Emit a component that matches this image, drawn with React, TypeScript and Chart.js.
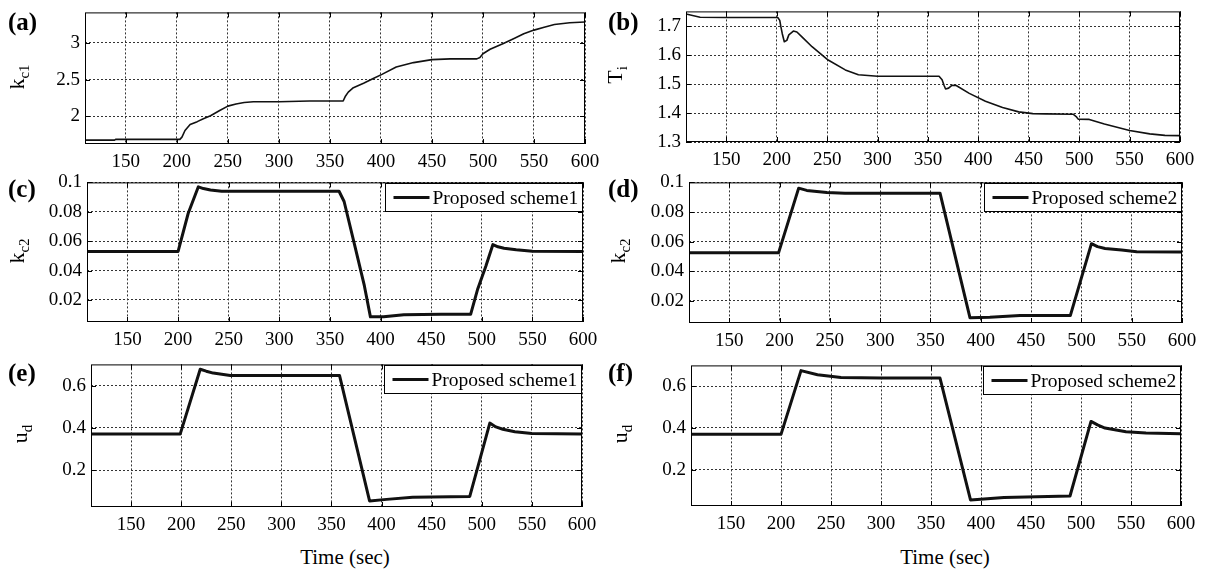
import { useEffect, useRef } from "react";
import { Chart, registerables } from "chart.js";

Chart.register(...registerables);

const FONT = '"Liberation Serif", "Times New Roman", serif';

// Shared time axis ticks (sec)
const timeTicks = [150, 200, 250, 300, 350, 400, 450, 500, 550, 600];
const timeMin = 110;
const timeMax = 600;

// (a) proportional gain k_c1
const kc1Time = [110, 139, 140, 203, 205, 208, 213, 220, 226, 233, 242, 250, 258, 266, 275, 300, 330, 363, 365, 368, 373, 383, 392, 401, 415, 432, 450, 468, 494, 497, 500, 507, 520, 531, 540, 550, 560, 570, 585, 600];
const kc1Values = [1.68, 1.68, 1.69, 1.69, 1.72, 1.81, 1.89, 1.93, 1.97, 2.01, 2.08, 2.14, 2.17, 2.19, 2.2, 2.2, 2.21, 2.21, 2.27, 2.33, 2.39, 2.45, 2.51, 2.57, 2.67, 2.73, 2.77, 2.78, 2.78, 2.8, 2.85, 2.91, 2.99, 3.06, 3.12, 3.17, 3.21, 3.245, 3.27, 3.28];
const kc1Ticks = [2, 2.5, 3];

// (b) integral time T_i
const tiTime = [110, 124, 150, 201, 203, 204, 205.5, 207.5, 210, 212, 216.5, 220, 225, 235, 251, 268, 281, 300, 361, 364, 366, 367.5, 370.5, 374, 378, 391, 407, 424, 440, 454, 467, 494, 497, 499, 510, 525, 550, 570, 585, 600];
const tiValues = [1.742, 1.731, 1.73, 1.73, 1.72, 1.7, 1.674, 1.646, 1.651, 1.67, 1.683, 1.68, 1.663, 1.629, 1.583, 1.549, 1.532, 1.527, 1.527, 1.515, 1.495, 1.483, 1.486, 1.496, 1.495, 1.468, 1.441, 1.419, 1.404, 1.398, 1.397, 1.396, 1.388, 1.379, 1.378, 1.362, 1.34, 1.328, 1.323, 1.322];
const tiTicks = [1.3, 1.4, 1.5, 1.6, 1.7];

// (c) k_c2, scheme 1
const kc2S1Time = [110, 200, 210, 220, 225, 232, 243, 300, 359, 364, 374, 384, 390, 403, 423, 460, 489, 496, 504, 511, 516, 522, 534, 550, 600];
const kc2S1Values = [0.053, 0.053, 0.079, 0.097, 0.0958, 0.0948, 0.094, 0.094, 0.094, 0.087, 0.0585, 0.0297, 0.0085, 0.0086, 0.01, 0.0102, 0.0102, 0.0275, 0.043, 0.0577, 0.0562, 0.0552, 0.0541, 0.0532, 0.053];

// (d) k_c2, scheme 2
const kc2S2Time = [110, 199, 219, 227, 247, 265, 300, 359.5, 389.3, 409, 439, 489, 510, 516, 523.5, 540, 555, 600];
const kc2S2Values = [0.0524, 0.0524, 0.0961, 0.0946, 0.0932, 0.0927, 0.0927, 0.0927, 0.0085, 0.0089, 0.01, 0.01, 0.0586, 0.0566, 0.0553, 0.0543, 0.0532, 0.053];
const kc2Ticks = [0.02, 0.04, 0.06, 0.08, 0.1];

// (e) u_d, scheme 1
const udS1Time = [110, 199, 219, 225, 232, 249, 300, 358, 388, 405, 431, 488, 508, 514, 521, 533, 550, 600];
const udS1Values = [0.371, 0.371, 0.677, 0.668, 0.659, 0.648, 0.648, 0.648, 0.0555, 0.063, 0.0725, 0.077, 0.423, 0.405, 0.394, 0.382, 0.374, 0.371];

// (f) u_d, scheme 2
const udS2Time = [110, 200, 220, 236.5, 260, 300, 359, 389.5, 423, 489, 510, 517, 524, 545, 565, 600];
const udS2Values = [0.369, 0.369, 0.675, 0.655, 0.642, 0.64, 0.639, 0.054, 0.066, 0.073, 0.431, 0.413, 0.399, 0.381, 0.375, 0.372];
const udTicks = [0.2, 0.4, 0.6];

const legendScheme1 = "Proposed scheme1";
const legendScheme2 = "Proposed scheme2";

// Canvas margins around each plot area
const PAD_L = 72;
const PAD_T = 14;
const PAD_R = 24;
const PAD_B = 36;

type PanelSpec = {
  id: string;
  box: [number, number, number, number];
  yMin: number;
  yMax: number;
  yTicks: number[];
  time: number[];
  values: number[];
  lineWidth: number;
  legend?: string;
};

const framePlugin = {
  id: "frame",
  afterDraw(chart: any, _args: any, opts: any) {
    const { ctx, chartArea } = chart;
    const { left, top, right, bottom } = chartArea;
    ctx.save();
    ctx.setLineDash([]);
    ctx.strokeStyle = "#000";
    ctx.lineWidth = 1;
    ctx.strokeRect(left + 0.5, top + 0.5, right - left - 1, bottom - top - 1);
    // inward tick marks on all four sides
    const xs = chart.scales.x;
    const ys = chart.scales.y;
    ctx.beginPath();
    xs.ticks.forEach((tk: any) => {
      const px = Math.round(xs.getPixelForValue(tk.value)) + 0.5;
      ctx.moveTo(px, bottom);
      ctx.lineTo(px, bottom - 5);
      ctx.moveTo(px, top);
      ctx.lineTo(px, top + 5);
    });
    ys.ticks.forEach((tk: any) => {
      const py = Math.round(ys.getPixelForValue(tk.value)) + 0.5;
      ctx.moveTo(left, py);
      ctx.lineTo(left + 5, py);
      ctx.moveTo(right, py);
      ctx.lineTo(right - 5, py);
    });
    ctx.stroke();

    if (opts && opts.label) {
      const w = 197;
      const h = 28;
      const bx = Math.round(right - 1 - w) + 0.5;
      const by = Math.round(top + 1) + 0.5;
      ctx.fillStyle = "#fff";
      ctx.fillRect(bx, by, w, h);
      ctx.strokeStyle = "#000";
      ctx.lineWidth = 1;
      ctx.strokeRect(bx, by, w, h);
      const cy = by + h / 2;
      ctx.beginPath();
      ctx.strokeStyle = "#111";
      ctx.lineWidth = opts.lineWidth || 3;
      ctx.moveTo(bx + 8, cy);
      ctx.lineTo(bx + 44, cy);
      ctx.stroke();
      ctx.fillStyle = "#000";
      ctx.font = `19.5px ${FONT}`;
      ctx.textBaseline = "middle";
      ctx.textAlign = "left";
      ctx.fillText(opts.label, bx + 47, cy + 1);
    }
    ctx.restore();
  },
};

const fmt = (v: any) => `${+Number(v).toFixed(3)}`;

function Panel({ spec }: { spec: PanelSpec }) {
  const ref = useRef<HTMLCanvasElement | null>(null);

  useEffect(() => {
    if (!ref.current) return;
    const gridStyle = { color: "#333", lineWidth: 1, drawTicks: false };
    const chart = new Chart(ref.current, {
      type: "line",
      data: {
        datasets: [
          {
            data: spec.time.map((t, i) => ({ x: t, y: spec.values[i] })),
            borderColor: "#111",
            borderWidth: spec.lineWidth,
            pointRadius: 0,
            fill: false,
            tension: 0,
            borderJoinStyle: "round",
          },
        ],
      },
      options: {
        animation: false,
        responsive: true,
        maintainAspectRatio: false,
        layout: { padding: { left: 0, top: PAD_T, right: PAD_R, bottom: 0 } },
        plugins: {
          legend: { display: false },
          tooltip: { enabled: false },
          frame: { label: spec.legend, lineWidth: spec.lineWidth },
        } as any,
        scales: {
          x: {
            type: "linear",
            min: timeMin,
            max: timeMax,
            afterBuildTicks: (s: any) => {
              s.ticks = timeTicks.map((v) => ({ value: v }));
            },
            afterFit: (s: any) => {
              s.height = PAD_B;
            },
            grid: gridStyle,
            border: { display: false, dash: [2, 2] },
            ticks: {
              color: "#000",
              font: { family: FONT, size: 19 },
              padding: 7,
              maxRotation: 0,
              autoSkip: false,
              callback: fmt,
            },
          },
          y: {
            type: "linear",
            min: spec.yMin,
            max: spec.yMax,
            afterBuildTicks: (s: any) => {
              s.ticks = spec.yTicks.map((v) => ({ value: v }));
            },
            afterFit: (s: any) => {
              s.width = PAD_L;
            },
            grid: gridStyle,
            border: { display: false, dash: [2, 2] },
            ticks: {
              color: "#000",
              font: { family: FONT, size: 19 },
              padding: 5,
              autoSkip: false,
              callback: fmt,
            },
          },
        },
      } as any,
      plugins: [framePlugin as any],
    });
    return () => chart.destroy();
  }, [spec]);

  const [l, t, r, b] = spec.box;
  return (
    <div
      style={{
        position: "absolute",
        left: l - PAD_L,
        top: t - PAD_T,
        width: r - l + PAD_L + PAD_R,
        height: b - t + PAD_T + PAD_B,
      }}
    >
      <canvas ref={ref} />
    </div>
  );
}

const panels: PanelSpec[] = [
  { id: "a", box: [85, 10, 585, 144], yMin: 1.627, yMax: 3.41, yTicks: kc1Ticks, time: kc1Time, values: kc1Values, lineWidth: 1.6 },
  { id: "b", box: [686, 9, 1180, 142], yMin: 1.3, yMax: 1.751, yTicks: tiTicks, time: tiTime, values: tiValues, lineWidth: 1.6 },
  { id: "c", box: [87, 180, 583, 322], yMin: 0.005, yMax: 0.1, yTicks: kc2Ticks, time: kc2S1Time, values: kc2S1Values, lineWidth: 3, legend: legendScheme1 },
  { id: "d", box: [689, 180, 1182, 323], yMin: 0.005, yMax: 0.1, yTicks: kc2Ticks, time: kc2S2Time, values: kc2S2Values, lineWidth: 3, legend: legendScheme2 },
  { id: "e", box: [91, 362, 582, 507], yMin: 0.027, yMax: 0.7, yTicks: udTicks, time: udS1Time, values: udS1Values, lineWidth: 3, legend: legendScheme1 },
  { id: "f", box: [691, 363, 1181, 506], yMin: 0.025, yMax: 0.7, yTicks: udTicks, time: udS2Time, values: udS2Values, lineWidth: 3, legend: legendScheme2 },
];

const panelTags = [
  { text: "(a)", x: 8, y: 22 },
  { text: "(b)", x: 608, y: 22 },
  { text: "(c)", x: 8, y: 189 },
  { text: "(d)", x: 608, y: 189 },
  { text: "(e)", x: 8, y: 373 },
  { text: "(f)", x: 608, y: 373 },
];

const yTitles = [
  { main: "k", sub: "c1", x: 19, y: 77 },
  { main: "T", sub: "i", x: 617, y: 75 },
  { main: "k", sub: "c2", x: 19, y: 251 },
  { main: "k", sub: "c2", x: 620, y: 251 },
  { main: "u", sub: "d", x: 22, y: 434 },
  { main: "u", sub: "d", x: 622, y: 434 },
];

const xTitles = [
  { text: "Time (sec)", x: 345, y: 557 },
  { text: "Time (sec)", x: 945, y: 557 },
];

export default function App() {
  return (
    <div
      style={{
        position: "absolute",
        left: 0,
        top: 0,
        width: 1208,
        height: 572,
        background: "#fff",
        fontFamily: FONT,
        color: "#000",
        overflow: "hidden",
      }}
    >
      {panels.map((p) => (
        <Panel key={p.id} spec={p} />
      ))}
      {panelTags.map((tg) => (
        <div
          key={tg.text}
          style={{
            position: "absolute",
            left: tg.x,
            top: tg.y - 13,
            fontSize: 25,
            fontWeight: "bold",
            lineHeight: "26px",
            whiteSpace: "nowrap",
          }}
        >
          {tg.text}
        </div>
      ))}
      {yTitles.map((yt, i) => (
        <div
          key={i}
          style={{
            position: "absolute",
            left: yt.x,
            top: yt.y,
            transform: "translate(-50%, -50%) rotate(-90deg)",
            fontSize: 22,
            lineHeight: 1,
            whiteSpace: "nowrap",
          }}
        >
          {yt.main}
          <sub style={{ fontSize: 15 }}>{yt.sub}</sub>
        </div>
      ))}
      {xTitles.map((xt, i) => (
        <div
          key={i}
          style={{
            position: "absolute",
            left: xt.x,
            top: xt.y,
            transform: "translate(-50%, -50%)",
            fontSize: 21,
            lineHeight: 1,
            whiteSpace: "nowrap",
          }}
        >
          {xt.text}
        </div>
      ))}
    </div>
  );
}
